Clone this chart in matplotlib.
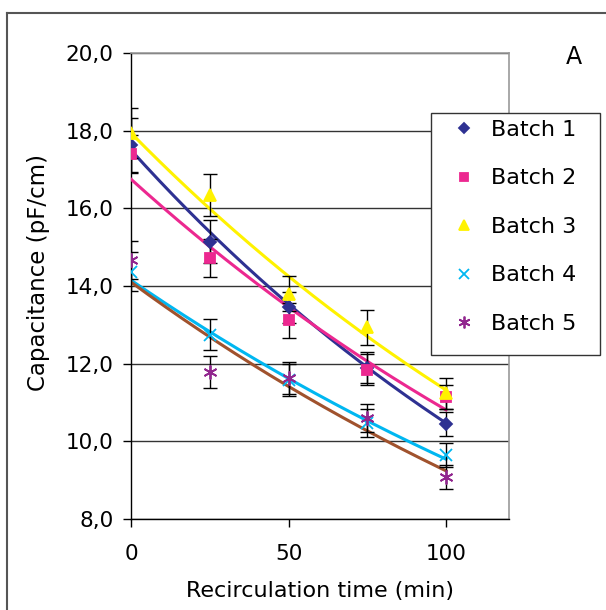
import numpy as np
import matplotlib
matplotlib.use("Agg")
import matplotlib.pyplot as plt
from matplotlib.lines import Line2D
from matplotlib.patches import Rectangle
from matplotlib.ticker import FuncFormatter

# recirculation time (min)
time_min = [0, 25, 50, 75, 100]

batch_names = ["Batch 1", "Batch 2", "Batch 3", "Batch 4", "Batch 5"]

# capacitance (pF/cm) per batch
batch1 = [17.63, 15.14, 13.45, 11.90, 10.45]
batch2 = [17.40, 14.72, 13.12, 11.84, 11.14]
batch3 = [17.94, 16.34, 13.80, 12.94, 11.24]
batch4 = [14.37, 12.75, 11.58, 10.47, 9.65]
batch5 = [14.67, 11.79, 11.63, 10.60, 9.08]

# error bar half-widths
err1 = [0.70, 0.55, 0.40, 0.40, 0.30]
err2 = [0.50, 0.50, 0.45, 0.40, 0.30]
err3 = [0.65, 0.55, 0.45, 0.45, 0.40]
err4 = [0.50, 0.40, 0.40, 0.35, 0.30]
err5 = [0.50, 0.42, 0.40, 0.35, 0.30]

# exponential trend lines: value at t=0 and t=100
trend_start = [17.50, 16.75, 17.94, 14.15, 14.10]
trend_end = [10.47, 10.81, 11.32, 9.54, 9.24]

values = [batch1, batch2, batch3, batch4, batch5]
errors = [err1, err2, err3, err4, err5]

marker_colors = ["#2e3192", "#ec2890", "#fff200", "#00b7f1", "#92278f"]
line_colors = ["#2e3192", "#ec2890", "#fff200", "#00b7f1", "#a0522d"]
markers = ["D", "s", "^", "x", (6, 2, 0)]
msizes = [6, 7.5, 8.5, 8, 10]

plt.rcParams["font.family"] = "DejaVu Sans"

fig = plt.figure(figsize=(6.06, 6.10), dpi=100)
ax = fig.add_axes([0.2162, 0.1492, 0.6238, 0.7639])

# exponential trend lines (y = a * exp(b t))
t = np.linspace(time_min[0], time_min[-1], 200)
for i in range(5):
    b = np.log(trend_end[i] / trend_start[i]) / (time_min[-1] - time_min[0])
    ax.plot(t, trend_start[i] * np.exp(b * t), color=line_colors[i], lw=2.2, zorder=3)

# error bars + markers
for i in range(5):
    ax.errorbar(time_min, values[i], yerr=errors[i], fmt="none",
                ecolor="black", elinewidth=1.0, capsize=5, capthick=1.0, zorder=4)
    ax.plot(time_min, values[i], linestyle="none", marker=markers[i],
            ms=msizes[i], color=marker_colors[i], mec=marker_colors[i],
            mew=1.3, zorder=5)

ax.set_xlim(0, 120)
ax.set_ylim(8, 20)
ax.set_xticks([0, 50, 100])
ax.set_yticks(np.arange(8, 20.1, 2))
ax.yaxis.set_major_formatter(FuncFormatter(lambda v, p: f"{v:.1f}".replace(".", ",")))
ax.tick_params(direction="out", length=6, width=1, labelsize=15.5)
ax.tick_params(axis="y", pad=6.5)
ax.tick_params(axis="x", pad=12)
ax.yaxis.grid(True, color="#333333", lw=1.0)
ax.set_axisbelow(True)

for s in ["left", "bottom"]:
    ax.spines[s].set_color("black")
    ax.spines[s].set_linewidth(1.0)
for s in ["top", "right"]:
    ax.spines[s].set_color("#999999")
    ax.spines[s].set_linewidth(1.2)

ax.set_xlabel("Recirculation time (min)", fontsize=16, labelpad=12)
ax.set_ylabel("Capacitance (pF/cm)", fontsize=16.5)
ax.yaxis.set_label_coords(-0.214, 0.528)

# legend with marker-only handles, frame drawn separately
handles = [Line2D([], [], linestyle="none", marker=markers[i], ms=msizes[i] * 0.85,
                  color=marker_colors[i], mec=marker_colors[i], mew=1.3)
           for i in range(5)]
leg = fig.legend(handles, batch_names, loc="upper left",
                 bbox_to_anchor=(0.736, 0.815), bbox_transform=fig.transFigure,
                 fontsize=16, frameon=False, labelspacing=1.28,
                 handlelength=1.0, handletextpad=0.7, borderpad=0.32,
                 borderaxespad=0)
fig.add_artist(Rectangle((431 / 606, 1 - 355 / 610), 169 / 606, 242 / 610,
                         transform=fig.transFigure, facecolor="white",
                         edgecolor="#333333", lw=1.0, zorder=2))
leg.set_zorder(3)

fig.text(0.947, 0.907, "A", fontsize=17, ha="center", va="center")

# outer frame (only left and top visible)
fig.add_artist(Line2D([0.0115, 0.0115], [0, 1 - 13 / 610], color="#555555",
                      lw=1.5, transform=fig.transFigure))
fig.add_artist(Line2D([0.0115, 1], [1 - 13 / 610, 1 - 13 / 610], color="#555555",
                      lw=1.5, transform=fig.transFigure))

fig.savefig("out.png", dpi=100)
